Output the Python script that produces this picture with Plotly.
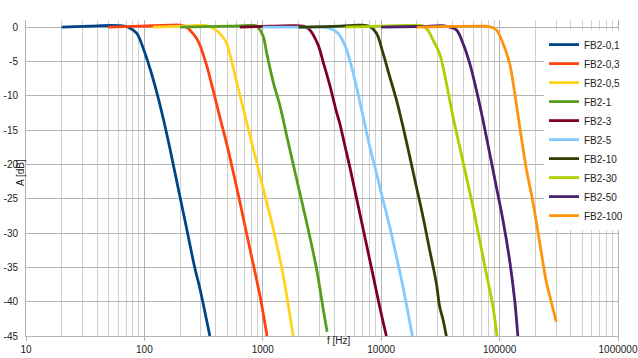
import plotly.graph_objects as go

# ---- data ----
series_names = ["FB2-0,1", "FB2-0,3", "FB2-0,5", "FB2-1", "FB2-3",
                "FB2-5", "FB2-10", "FB2-30", "FB2-50", "FB2-100"]
series_colors = ["#004586", "#ff420e", "#ffd320", "#579d1c", "#7e0021",
                 "#83caff", "#314004", "#aecf00", "#4b1f6f", "#ff950e"]

fb01_f = [20, 34.7, 51.2, 64.6, 73.0, 85.9, 97.7, 111.3, 126.7, 144.1, 164.1, 192.9, 227.1, 266.9, 293.9, 357.0]
fb01_a = [0.0, 0.15, 0.25, 0.2, 0.0, -0.87, -3.06, -5.98, -9.39, -13.27, -17.64, -23.47, -29.3, -35.13, -38.05, -45.0]

fb03_f = [49.2, 91.6, 164.1, 199.4, 227.1, 242.1, 275.6, 293.9, 334.7, 380.9, 433.6, 494.0, 561.5, 639.7, 776.2, 943.6, 1086]
fb03_a = [0.0, 0.15, 0.3, 0.3, 0.0, -0.4, -1.6, -2.58, -5.5, -9.2, -13.1, -16.9, -21.05, -25.42, -32.22, -39.03, -45.0]

fb05_f = [118, 242, 324, 380.9, 433.6, 494, 526.7, 600, 682.3, 828.6, 1006, 1222, 1484, 1803]
fb05_a = [0.0, 0.2, 0.25, -0.15, -0.9, -2.3, -3.9, -7.93, -11.81, -17.64, -23.47, -29.3, -36.1, -45.0]

fb1_f = [200, 526.7, 776, 889, 1006, 1074, 1222, 1390, 1634, 1923, 2337, 2838, 3228, 3491]
fb1_a = [0.0, 0.15, 0.25, 0.15, -1.3, -3.6, -7.93, -11.33, -16.68, -22.01, -28.34, -35.13, -40.96, -44.37]

fb3_f = [640, 1146, 2052, 2261, 2493, 2931, 3228, 3675, 4185, 4464, 4920, 5423, 6592, 8005, 9710, 11060]
fb3_a = [0.0, 0.15, 0.2, 0.1, -0.39, -2.58, -5.01, -8.41, -12.3, -14.0, -17.16, -20.32, -27.11, -33.92, -40.73, -45.0]

fb5_f = [1000, 2052, 3027, 3675, 4295, 4920, 5423, 6180, 7031, 8005, 9120, 10360, 11800, 13450, 15280, 18340]
fb5_a = [0.0, 0.0, 0.0, -0.17, -0.83, -2.58, -4.77, -8.66, -13.03, -17.4, -21.28, -25.17, -29.07, -33.44, -37.81, -45.0]

fb10_f = [2000, 4464, 6592, 8005, 9120, 10360, 11800, 13450, 15280, 17420, 19820, 22540, 25650, 29240, 31190, 33370, 35490]
fb10_a = [0.0, 0.15, 0.3, 0.1, -0.87, -3.79, -7.2, -10.6, -14.49, -18.86, -23.24, -27.61, -32.46, -37.32, -40.73, -42.7, -45.0]

fb30_f = [5000, 9710, 17420, 22540, 24690, 27370, 31190, 35490, 40380, 45960, 52330, 59560, 67790, 77190, 87900, 95030]
fb30_a = [0.0, 0.15, 0.25, 0.19, -0.4, -1.85, -3.9, -8.12, -13.03, -17.4, -21.78, -26.15, -31.0, -35.86, -40.73, -45.0]

fb50_f = [10000, 21130, 34350, 37840, 43150, 49010, 55850, 63620, 72300, 82420, 93820, 106700, 121400, 134000, 142600]
fb50_a = [0.0, 0.1, 0.2, 0.0, -0.39, -2.33, -5.25, -9.14, -13.51, -18.37, -23.24, -28.09, -33.92, -39.75, -45.0]

fb100_f = [20000, 37840, 67790, 82420, 93820, 106700, 121400, 129500, 147600, 167900, 190900, 217600, 247800, 269200, 300800]
fb100_a = [0.0, 0.1, 0.15, 0.1, -0.39, -2.33, -5.25, -7.9, -14.4, -20.55, -25.42, -31.25, -37.08, -39.6, -42.92]

x_tick_vals = [10, 100, 1000, 10000, 100000, 1000000]
x_tick_text = ["10", "100", "1000", "10000", "100000", "1000000"]
y_tick_vals = [0, -5, -10, -15, -20, -25, -30, -35, -40, -45]
y_tick_text = ["0", "-5", "-10", "-15", "-20", "-25", "-30", "-35", "-40", "-45"]

series_f = [fb01_f, fb03_f, fb05_f, fb1_f, fb3_f, fb5_f, fb10_f, fb30_f, fb50_f, fb100_f]
series_a = [fb01_a, fb03_a, fb05_a, fb1_a, fb3_a, fb5_a, fb10_a, fb30_a, fb50_a, fb100_a]

FONT = "Liberation Sans, Arial, sans-serif"
TXT = "#222222"

fig = go.Figure()
for name, color, fx, ay in zip(series_names, series_colors, series_f, series_a):
    fig.add_trace(go.Scatter(
        x=fx, y=ay, name=name, mode="lines",
        line=dict(color=color, width=2.8, shape="spline", smoothing=1.0),
    ))

minor_vals = [m * 10 ** e for e in range(1, 6) for m in range(2, 10)]

fig.update_layout(
    width=638, height=358,
    margin=dict(l=26, r=20, t=20, b=22, autoexpand=False),
    paper_bgcolor="white", plot_bgcolor="white",
    font=dict(family=FONT, size=10, color=TXT),
    showlegend=True,
    legend=dict(
        x=0.875, y=0.968, xanchor="left", yanchor="top",
        bgcolor="white", borderwidth=0,
        font=dict(family=FONT, size=10, color=TXT),
        itemwidth=30, tracegroupgap=0,
    ),
    xaxis=dict(
        type="log", range=[1, 6], automargin=False,
        tickmode="array", tickvals=x_tick_vals, ticktext=x_tick_text,
        showgrid=True, gridcolor="#b3b3b3", gridwidth=1,
        ticks="outside", ticklen=4, tickcolor="#b3b3b3",
        showline=True, linecolor="#b3b3b3", linewidth=1,
        zeroline=False,
        tickfont=dict(family=FONT, size=10, color=TXT),
        minor=dict(tickmode="array", tickvals=minor_vals, showgrid=True,
                   gridcolor="#cfcfcf", gridwidth=1, ticks=""),
    ),
    yaxis=dict(
        range=[-45, 1.05], automargin=False,
        tickmode="array", tickvals=y_tick_vals, ticktext=y_tick_text,
        showgrid=True, gridcolor="#b3b3b3", gridwidth=1,
        ticks="outside", ticklen=5, tickcolor="rgba(0,0,0,0)",
        showline=True, linecolor="#b3b3b3", linewidth=1, mirror=True,
        zeroline=False,
        tickfont=dict(family=FONT, size=10, color=TXT),
    ),
    annotations=[
        dict(text="f [Hz]", xref="paper", yref="paper", x=0.5287, y=-0.0158,
             xanchor="center", yanchor="middle", showarrow=False,
             font=dict(family=FONT, size=10, color=TXT)),
        dict(text="A [dB]", xref="paper", yref="paper", x=-0.0084, y=0.516,
             xanchor="center", yanchor="middle", showarrow=False, textangle=-90,
             font=dict(family=FONT, size=10, color=TXT)),
    ],
)

fig.write_html("out.html")
